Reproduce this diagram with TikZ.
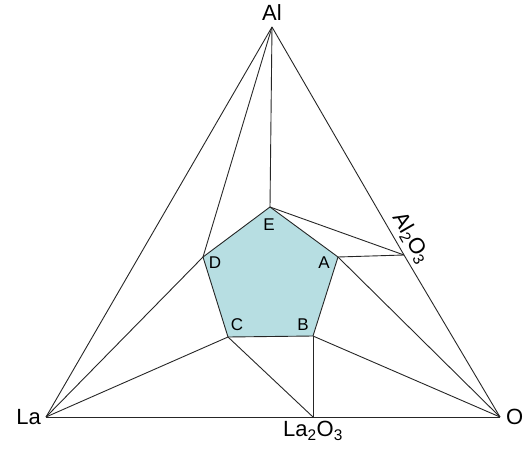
\documentclass[tikz,border=0pt]{standalone}
\usepackage{fontspec}
\setmainfont{Liberation Sans}
\usetikzlibrary{positioning}
\definecolor{phasecolor}{HTML}{B7DEE2}

\begin{document}
\begin{tikzpicture}[
    x=1pt, y=-1pt,
    tie/.style={draw=black!85, line width=0.9pt},
    corner/.style={font=\fontsize{22}{24}\selectfont, inner sep=0pt},
    vlabel/.style={font=\fontsize{17}{19}\selectfont, inner sep=0pt}
]
    \useasboundingbox (0,0) rectangle (527,452);

    % Ternary corners and binary compounds
    \coordinate (Al) at (272,27);
    \coordinate (La) at (46,417);
    \coordinate (O) at (500,417);
    \coordinate (La2O3) at (313,417);
    \coordinate (Al2O3) at (404,255);

    % Pentagon vertices
    \coordinate (E) at (270,207);
    \coordinate (D) at (203,257);
    \coordinate (A) at (338,257);
    \coordinate (C) at (228,337);
    \coordinate (B) at (313,336);

    % Central phase field
    \filldraw[tie, fill=phasecolor] (E) -- (A) -- (B) -- (C) -- (D) -- cycle;

    % Triangle
    \draw[tie] (Al) -- (La);
    \draw[tie] (La) -- (La2O3);
    \draw[tie] (La2O3) -- (O);
    \draw[tie] (O) -- (Al2O3);
    \draw[tie] (Al2O3) -- (Al);

    % Tie lines
    \draw[tie] (Al) -- (D);
    \draw[tie] (Al) -- (E);
    \draw[tie] (E) -- (Al2O3);
    \draw[tie] (A) -- (Al2O3);
    \draw[tie] (A) -- (O);
    \draw[tie] (B) -- (O);
    \draw[tie] (B) -- (La2O3);
    \draw[tie] (C) -- (La2O3);
    \draw[tie] (C) -- (La);
    \draw[tie] (D) -- (La);

    % Labels
    \node[corner, above=6pt of Al] (lAl) {Al};
    \node[corner, left=5pt of La] (lLa) {La};
    \node[corner, right=6pt of O] (lO) {O};
    \node[corner, below=4pt of La2O3] (lLa2O3) {La\textsubscript{2}O\textsubscript{3}};
    \node[corner, rotate=-60] (lAl2O3) at (411,238) {Al\textsubscript{2}O\textsubscript{3}};

    \node[vlabel] (lE) at (269,225) {E};
    \node[vlabel] (lD) at (215,263) {D};
    \node[vlabel] (lA) at (324,263) {A};
    \node[vlabel] (lC) at (237,325) {C};
    \node[vlabel] (lB) at (303,325) {B};
\end{tikzpicture}
\end{document}
